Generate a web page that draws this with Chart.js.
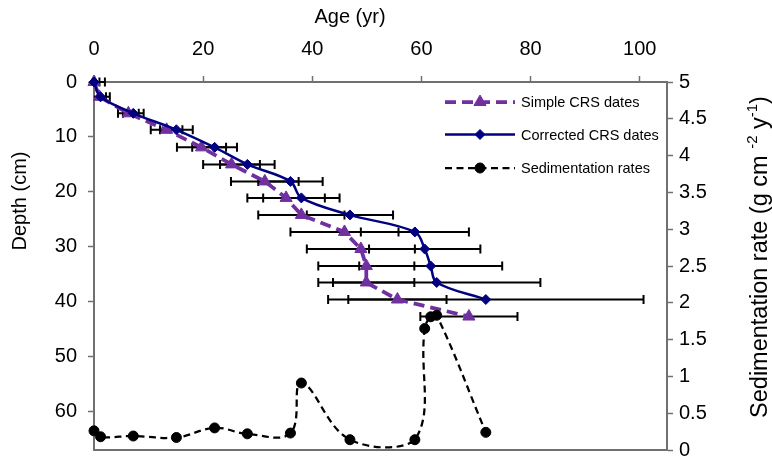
<!DOCTYPE html>
<html>
<head>
<meta charset="utf-8">
<title>CRS dates and sedimentation rates</title>
<script src="https://cdn.jsdelivr.net/npm/chart.js@4/dist/chart.umd.min.js"></script>
<style>
  html, body { margin: 0; padding: 0; background: #fff; }
</style>
</head>
<body>
<canvas id="chart" width="772" height="461"></canvas>
<script>
const FONT = "'Liberation Sans', Arial, sans-serif";

// depth of each slice (cm)
const depths = [0, 2.7, 5.7, 8.7, 11.9, 15, 18.1, 21.1, 24.2, 27.3, 30.4, 33.5, 36.5, 39.6, 42.7];

// simple CRS model
const simpleAge = [0, 1.0, 6.3, 13.3, 19.7, 25.2, 31.3, 35.2, 38.0, 45.9, 48.9, 49.9, 49.9, 55.6, 68.7];
const simpleErr = [1, 1.2, 1.9, 2.9, 4.5, 5.2, 6.2, 7.1, 7.9, 9.9, 9.9, 8.8, 8.8, 9.0, 8.9];

// corrected CRS model
const correctedAge = [0, 1.2, 7.2, 15.1, 22.1, 28.1, 36.0, 38.0, 46.9, 58.8, 60.6, 61.7, 62.8, 71.8];
const correctedErr = [2, 1.7, 1.9, 3.0, 4.1, 5.0, 5.9, 7.0, 7.9, 9.9, 10.2, 13.1, 19.0, 28.9];

// sedimentation rate (g cm-2 y-1), plotted at corrected ages
const sedRate = [0.26, 0.18, 0.19, 0.17, 0.30, 0.22, 0.23, 0.91, 0.14, 0.14, 1.65, 1.81, 1.83, 0.24];

const seriesNames = ['Simple CRS dates', 'Corrected CRS dates', 'Sedimentation rates'];
const ageTitle = 'Age (yr)';
const depthTitle = 'Depth (cm)';

const AXIS_GREY = '#707070';

function pairs(xs, ys) {
    return xs.map((v, i) => ({ x: v, y: ys[i] }));
}

// horizontal error bars on the age values
const errorBars = {
    id: 'errorBars',
    beforeDatasetsDraw(chart) {
        const { ctx, chartArea, scales } = chart;
        ctx.save();
        ctx.beginPath();
        ctx.rect(chartArea.left, chartArea.top - 10, chartArea.right - chartArea.left, chartArea.bottom - chartArea.top + 20);
        ctx.clip();
        ctx.strokeStyle = '#000';
        ctx.lineWidth = 2;
        const draw = (ages, errs) => {
            ages.forEach((a, i) => {
                const py = scales.y.getPixelForValue(depths[i]);
                const x1 = scales.x.getPixelForValue(a - errs[i]);
                const x2 = scales.x.getPixelForValue(a + errs[i]);
                ctx.beginPath();
                ctx.moveTo(x1, py); ctx.lineTo(x2, py);
                ctx.moveTo(x1, py - 4.5); ctx.lineTo(x1, py + 4.5);
                ctx.moveTo(x2, py - 4.5); ctx.lineTo(x2, py + 4.5);
                ctx.stroke();
            });
        };
        draw(simpleAge, simpleErr);
        draw(correctedAge, correctedErr);
        ctx.restore();
    }
};

// legend inside the plot, axis titles, bottom frame line
const extras = {
    id: 'extras',
    afterDraw(chart) {
        const { ctx, chartArea } = chart;
        ctx.save();

        // bottom edge of the plot area
        ctx.strokeStyle = AXIS_GREY;
        ctx.lineWidth = 2;
        ctx.beginPath();
        ctx.moveTo(chartArea.left - 1, chartArea.bottom);
        ctx.lineTo(chartArea.right + 1, chartArea.bottom);
        ctx.stroke();

        // legend
        const rowsY = [102, 134.5, 168];
        chart.data.datasets.forEach((ds, i) => {
            const y = rowsY[i];
            ctx.save();
            ctx.strokeStyle = ds.borderColor;
            ctx.lineWidth = ds.borderWidth;
            ctx.setLineDash(ds.borderDash || []);
            ctx.beginPath();
            ctx.moveTo(445, y);
            ctx.lineTo(515, y);
            ctx.stroke();
            ctx.setLineDash([]);
            ctx.fillStyle = ds.pointBackgroundColor;
            ctx.strokeStyle = ds.pointBorderColor;
            ctx.lineWidth = ds.pointBorderWidth;
            Chart.helpers.drawPoint(ctx, {
                pointStyle: ds.pointStyle, rotation: 0,
                radius: ds.pointRadius, borderWidth: ds.pointBorderWidth
            }, 480, y);
            ctx.restore();
            ctx.fillStyle = '#000';
            ctx.font = '14.5px ' + FONT;
            ctx.textAlign = 'left';
            ctx.textBaseline = 'middle';
            ctx.fillText(ds.label, 521, y + 1);
        });

        // axis titles
        ctx.fillStyle = '#000';
        ctx.font = '20px ' + FONT;
        ctx.textAlign = 'center';
        ctx.textBaseline = 'middle';
        ctx.fillText(ageTitle, 350, 17);

        ctx.save();
        ctx.translate(20, 201);
        ctx.rotate(-Math.PI / 2);
        ctx.fillText(depthTitle, 0, 0);
        ctx.restore();

        // right title with superscripts
        const parts = [
            { t: 'Sedimentation rate (g cm ', sup: false },
            { t: '-2', sup: true },
            { t: ' y', sup: false },
            { t: '-1', sup: true },
            { t: ')', sup: false }
        ];
        const big = '23.5px ' + FONT, small = '15px ' + FONT;
        let total = 0;
        parts.forEach(p => { ctx.font = p.sup ? small : big; p.w = ctx.measureText(p.t).width; total += p.w; });
        ctx.save();
        ctx.translate(761, 257);
        ctx.rotate(-Math.PI / 2);
        ctx.textAlign = 'left';
        let cx = -total / 2;
        parts.forEach(p => {
            ctx.font = p.sup ? small : big;
            ctx.fillText(p.t, cx, p.sup ? -8 : 0);
            cx += p.w;
        });
        ctx.restore();

        ctx.restore();
    }
};

const tickFont = { family: FONT, size: 20 };

function noEdgePadding(s) {
    s.paddingTop = 0;
    s.paddingBottom = 0;
    s.paddingLeft = 0;
    s.paddingRight = 0;
}

new Chart(document.getElementById('chart'), {
    type: 'line',
    data: {
        datasets: [
            {
                label: seriesNames[0],
                data: pairs(simpleAge, depths),
                yAxisID: 'y',
                order: 3,
                borderColor: '#7030A0',
                borderWidth: 3.75,
                borderDash: [11, 6],
                tension: 0,
                pointStyle: 'triangle',
                pointRadius: 7,
                pointBackgroundColor: '#7030A0',
                pointBorderColor: '#7030A0',
                pointBorderWidth: 1,
                clip: false
            },
            {
                label: seriesNames[1],
                data: pairs(correctedAge, depths),
                yAxisID: 'y',
                order: 2,
                borderColor: '#000080',
                borderWidth: 2.5,
                tension: 0.35,
                pointStyle: 'rectRot',
                pointRadius: 5,
                pointBackgroundColor: '#000080',
                pointBorderColor: '#000080',
                pointBorderWidth: 1,
                clip: false
            },
            {
                label: seriesNames[2],
                data: pairs(correctedAge, sedRate),
                yAxisID: 'y2',
                order: 1,
                borderColor: '#000000',
                borderWidth: 2.25,
                borderDash: [7, 4.5],
                tension: 0.4,
                pointStyle: 'circle',
                pointRadius: 5,
                pointBackgroundColor: '#000000',
                pointBorderColor: '#000000',
                pointBorderWidth: 1,
                clip: false
            }
        ]
    },
    options: {
        responsive: false,
        animation: false,
        events: [],
        layout: { padding: { top: 0, left: 0, right: 0, bottom: 11 } },
        plugins: { legend: { display: false }, tooltip: { enabled: false } },
        scales: {
            x: {
                type: 'linear',
                position: 'top',
                min: 0,
                max: 105,
                ticks: { stepSize: 20, includeBounds: false, color: '#000', font: tickFont, padding: 15, maxRotation: 0 },
                grid: { drawOnChartArea: false, drawTicks: true, tickLength: 6, tickColor: AXIS_GREY, tickWidth: 1.5 },
                border: { display: true, color: AXIS_GREY, width: 2 },
                afterFit: s => { s.height = 82; noEdgePadding(s); }
            },
            y: {
                type: 'linear',
                position: 'left',
                reverse: true,
                min: 0,
                max: 67,
                ticks: { stepSize: 10, includeBounds: false, color: '#000', font: tickFont, padding: 11 },
                grid: { drawOnChartArea: false, drawTicks: true, tickLength: 6, tickColor: AXIS_GREY, tickWidth: 1.5 },
                border: { display: true, color: AXIS_GREY, width: 2 },
                afterFit: s => { s.width = 94; noEdgePadding(s); }
            },
            y2: {
                type: 'linear',
                position: 'right',
                min: 0,
                max: 5,
                ticks: { stepSize: 0.5, includeBounds: false, color: '#000', font: tickFont, padding: 6, callback: v => String(v) },
                grid: { drawOnChartArea: false, drawTicks: true, tickLength: 6, tickColor: AXIS_GREY, tickWidth: 1.5 },
                border: { display: true, color: AXIS_GREY, width: 2 },
                afterFit: s => { s.width = 105; noEdgePadding(s); }
            }
        }
    },
    plugins: [errorBars, extras]
});
</script>
</body>
</html>
